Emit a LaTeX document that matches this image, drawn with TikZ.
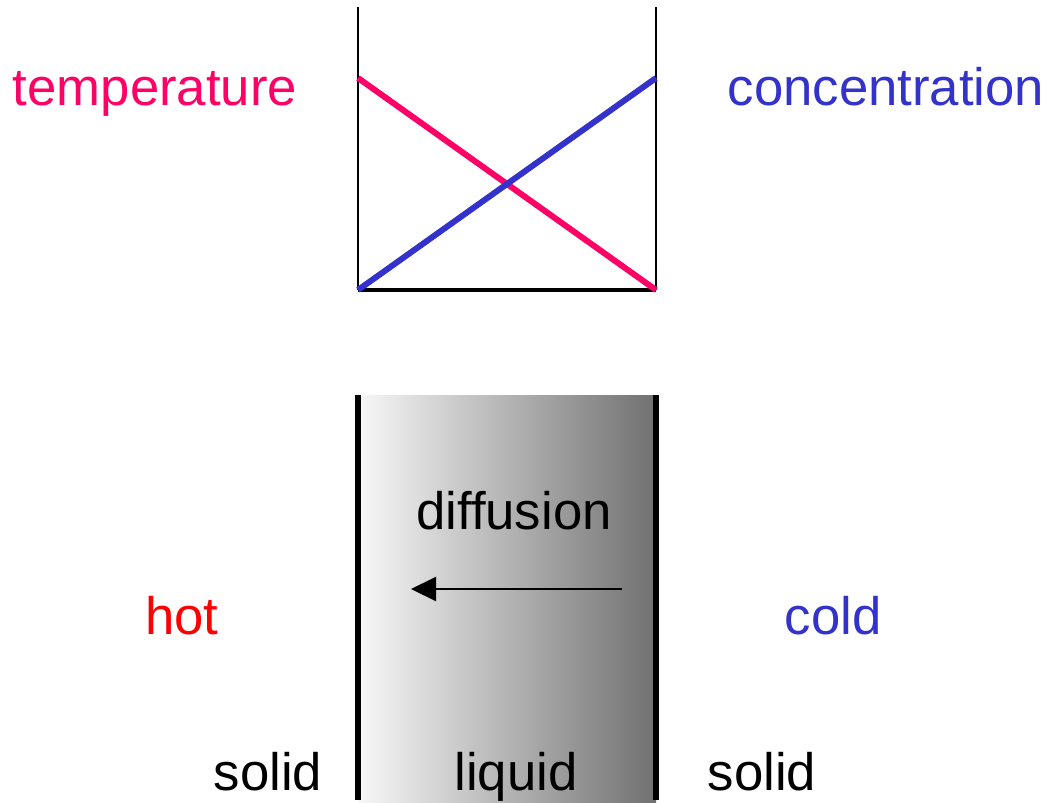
\documentclass[tikz,border=0pt]{standalone}
\usepackage{fontspec}
\setmainfont{Liberation Sans}
\usepackage{xcolor}
\usepackage{tikz}
\usetikzlibrary{arrows.meta,positioning,calc}
\definecolor{tempPink}{HTML}{FF0066}
\definecolor{concBlue}{HTML}{3333CC}
\definecolor{hotRed}{HTML}{FF0000}
\tikzset{
  etiqueta/.style={anchor=base, inner sep=0pt, font=\fontsize{15}{18}\selectfont, text=#1},
  pared/.style={draw=black, line width=1.6pt},
  eje/.style={draw=black, line width=0.6pt},
  perfil/.style={draw=#1, line width=1.7pt},
  arrflujo/.style={-{Triangle[length=2.5mm, width=2.4mm]}, line width=0.6pt},
}

\begin{document}
\begin{tikzpicture}
\useasboundingbox (0,0) rectangle (10.57,8.02);

% profile plot
\coordinate (pTL) at (3.58,7.95);
\coordinate (pTR) at (6.56,7.95);
\coordinate (pBL) at (3.58,5.12);
\coordinate (pBR) at (6.56,5.12);
\coordinate (pHi) at (3.58,7.24);
\coordinate (pHiR) at (6.56,7.24);
\draw[eje] (pTL) -- (pBL);
\draw[eje] (pTR) -- (pBR);
\draw[draw=black, line width=1pt] (pBL) -- (pBR);
\draw[perfil=tempPink] (pHi) -- (pBR);
\draw[perfil=concBlue] (pBL) -- (pHiR);

\node[etiqueta=tempPink] (temp) at (1.55,6.96) {temperature};
\node[etiqueta=concBlue] (conc) at (8.86,6.96) {concentration};

% liquid layer between the two solids
\shade[left color=black!3, right color=black!56] (3.58,0) rectangle (6.56,4.07);
\draw[pared] (3.58,0.02) -- (3.58,4.07);
\draw[pared] (6.56,0.02) -- (6.56,4.07);

\node[etiqueta=black] (difu) at (5.14,2.73) {diffusion};
\coordinate (flujoA) at (6.22,2.13);
\coordinate (flujoB) at (4.11,2.13);
\draw[arrflujo] (flujoA) -- (flujoB);

\node[etiqueta=hotRed] (hot) at (1.82,1.68) {hot};
\node[etiqueta=concBlue] (cold) at (8.33,1.68) {cold};

\node[etiqueta=black] (solidL) at (2.68,0.12) {solid};
\node[etiqueta=black] (liq) at (5.16,0.12) {liquid};
\node[etiqueta=black] (solidR) at (7.62,0.12) {solid};
\end{tikzpicture}
\end{document}
